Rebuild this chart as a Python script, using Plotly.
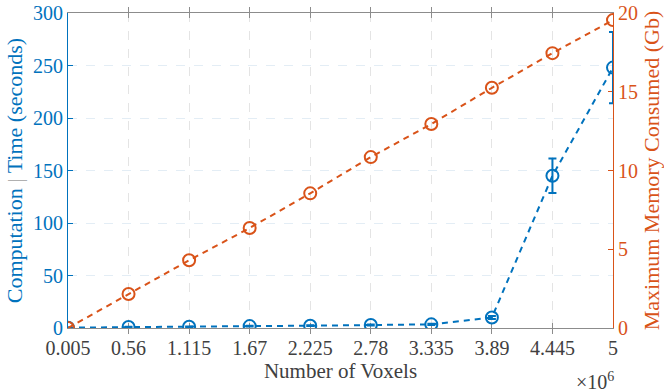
import plotly.graph_objects as go

voxels = [0.005, 0.56, 1.115, 1.67, 2.225, 2.78, 3.335, 3.89, 4.445, 5]
tick_labels = ["0.005", "0.56", "1.115", "1.67", "2.225", "2.78", "3.335", "3.89", "4.445", "5"]
time_sec = [0.3, 1.0, 1.2, 1.8, 2.2, 2.8, 3.5, 10, 145, 248]
time_err = [0.2, 0.3, 0.3, 0.4, 0.4, 0.5, 0.6, 1.5, 16.5, 34]
memory_gb = [0.0, 2.16, 4.3, 6.35, 8.55, 10.85, 12.95, 15.25, 17.45, 19.55]

BLUE = "#0072BD"
ORANGE = "#D95319"
GRAY = "#404040"
FONT = "Liberation Serif, Times New Roman, serif"

fig = go.Figure()
fig.add_trace(go.Scatter(
    x=voxels, y=memory_gb, mode="lines+markers",
    line=dict(color=ORANGE, width=2, dash="6px,5px"),
    marker=dict(symbol="circle-open", size=12, color=ORANGE, line=dict(width=2, color=ORANGE)),
    yaxis="y2", showlegend=False,
))
fig.add_trace(go.Scatter(
    x=voxels, y=time_sec, mode="lines+markers",
    line=dict(color=BLUE, width=2, dash="6px,5px"),
    marker=dict(symbol="circle-open", size=12, color=BLUE, line=dict(width=2, color=BLUE)),
    error_y=dict(type="data", array=time_err, color=BLUE, thickness=2, width=4),
    yaxis="y", showlegend=False,
))

fig.update_layout(
    width=664, height=391,
    margin=dict(l=68, r=51, t=13, b=63),
    plot_bgcolor="white", paper_bgcolor="white",
    font=dict(family=FONT, size=20, color=GRAY),
    xaxis=dict(
        range=[0.005, 5], tickmode="array", tickvals=voxels, ticktext=tick_labels,
        showline=True, linecolor="#8c8c8c", linewidth=1, mirror="allticks",
        ticks="inside", ticklen=5, tickcolor="#8c8c8c", layer="below traces",
        showgrid=True, gridcolor="#e4e4e4", griddash="dash", zeroline=False,
        tickfont=dict(size=20, color=GRAY), ticklabelstandoff=2, automargin=False,
        title=dict(text="Number of Voxels", font=dict(size=21, color=GRAY), standoff=0),
    ),
    yaxis=dict(
        range=[0, 300], tickvals=[0, 50, 100, 150, 200, 250, 300],
        showline=True, linecolor=BLUE, linewidth=1, ticks="inside", ticklen=5, tickcolor=BLUE,
        layer="below traces", automargin=False,
        showgrid=True, gridcolor="#e3edf5", griddash="dash", zeroline=False,
        tickfont=dict(size=20, color=BLUE),
        title=dict(text="Computation <span style='color:#b0b0b0'>|</span> Time (seconds)",
                   font=dict(size=22, color=BLUE), standoff=4),
    ),
    yaxis2=dict(
        range=[0, 20], tickvals=[0, 5, 10, 15, 20], overlaying="y", side="right",
        showline=True, linecolor=ORANGE, linewidth=1, ticks="inside", ticklen=5, tickcolor=ORANGE,
        layer="below traces", automargin=False,
        showgrid=False, zeroline=False,
        tickfont=dict(size=20, color=ORANGE),
        title=dict(text="Maximum Memory Consumed (Gb)", font=dict(size=22, color=ORANGE), standoff=6),
    ),
    annotations=[dict(
        text="×10<sup>6</sup>", xref="paper", yref="paper", x=1.005, y=-0.125,
        xanchor="right", yanchor="top", showarrow=False,
        font=dict(family=FONT, size=20, color=GRAY),
    )],
)

fig.write_html("out.html")
